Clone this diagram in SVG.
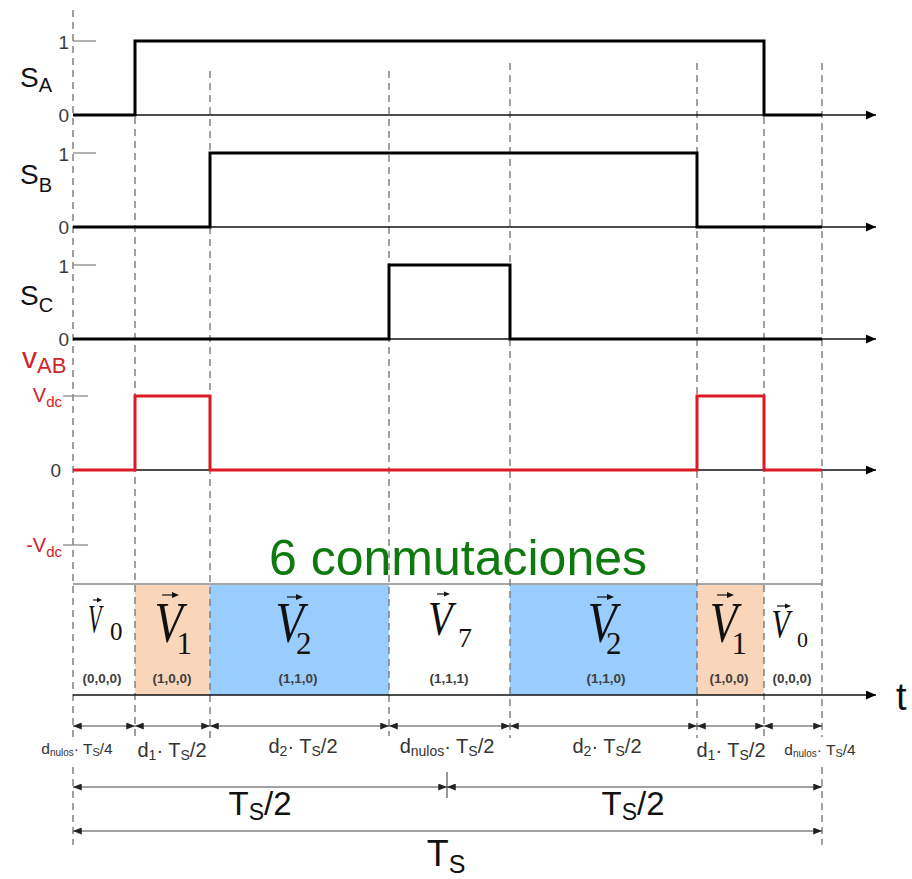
<svg xmlns="http://www.w3.org/2000/svg" width="912" height="879" viewBox="0 0 912 879">
<defs>
<style>
.sans{font-family:"Liberation Sans",Arial,sans-serif}
.serif{font-family:"Liberation Serif","Times New Roman",serif}
.vv{font-family:"Liberation Serif","Times New Roman",serif;font-style:italic;fill:#111}
.sub{font-family:"Liberation Serif","Times New Roman",serif;fill:#111}
.axis{stroke:#111;stroke-width:1.6;fill:none;marker-end:url(#ax)}
.sig{stroke:#000;stroke-width:3;fill:none}
.sigr{stroke:#DB1A22;stroke-width:3;fill:none}
.dash{stroke:#7a7a7a;stroke-width:1.4;stroke-dasharray:7 5;fill:none}
.tick{stroke:#8a8a8a;stroke-width:1.3;fill:none}
.dim{stroke:#444;stroke-width:1.1;fill:none;marker-start:url(#ah);marker-end:url(#ah)}
.num{font-family:"Liberation Sans",Arial,sans-serif;font-size:19px;fill:#3a3a3a;text-anchor:end}
.red{fill:#D0242B}
.tup{font-family:"Liberation Sans",Arial,sans-serif;font-size:13.5px;font-weight:bold;fill:#404040;text-anchor:middle}
.dl{font-family:"Liberation Sans",Arial,sans-serif;font-size:20px;fill:#333;text-anchor:middle}
.dls{font-family:"Liberation Sans",Arial,sans-serif;font-size:15.5px;fill:#333;text-anchor:middle}
.va{stroke:#111;stroke-width:1.2;fill:none}
</style>
<marker id="ax" viewBox="0 0 10 9" refX="10" refY="4.5" markerWidth="10" markerHeight="9" markerUnits="userSpaceOnUse" orient="auto"><path d="M0,0 L10,4.5 L0,9 z" fill="#000"/></marker>
<marker id="ah" viewBox="0 0 10 8" refX="10" refY="4" markerWidth="9" markerHeight="7" markerUnits="userSpaceOnUse" orient="auto-start-reverse"><path d="M0,0 L10,4 L0,8 z" fill="#222"/></marker>
</defs>
<rect width="912" height="879" fill="#fff"/>

<!-- vector band fills -->
<g id="band">
<rect x="135" y="584" width="75" height="111" fill="#F9D5B9"/>
<rect x="210" y="584" width="179" height="111" fill="#99CCFF"/>
<rect x="510" y="584" width="187" height="111" fill="#99CCFF"/>
<rect x="697" y="584" width="67" height="111" fill="#F9D5B9"/>
<line x1="73" y1="584" x2="822" y2="584" stroke="#A6A6A6" stroke-width="2"/>
</g>

<!-- dashed guides -->
<g id="guides">
<path class="dash" d="M73,10 V737 M73,767 V845"/>
<path class="dash" d="M135,117 V738"/>
<path class="dash" d="M210,71 V738"/>
<path class="dash" d="M389,71 V736"/>
<path class="dash" d="M510,63 V738"/>
<path class="dash" d="M697,63 V738"/>
<path class="dash" d="M764,117 V738"/>
<path class="dash" d="M822,63 V737 M822,767 V845"/>
</g>

<!-- SA -->
<g id="SA">
<line class="tick" x1="73" y1="41" x2="96" y2="41"/>
<path class="axis" d="M73,115 H876"/>
<path class="sig" d="M73,115 H135 V41 H764 V115 H822"/>
<text class="num" x="69" y="49">1</text>
<text class="num" x="69" y="122">0</text>
<text class="sans" x="20" y="87" font-size="28" fill="#111">S<tspan font-size="20" dy="5">A</tspan></text>
</g>

<!-- SB -->
<g id="SB">
<line class="tick" x1="73" y1="153" x2="96" y2="153"/>
<path class="axis" d="M73,227 H876"/>
<path class="sig" d="M73,227 H210 V153 H697 V227 H822"/>
<text class="num" x="69" y="161">1</text>
<text class="num" x="69" y="234">0</text>
<text class="sans" x="20" y="184" font-size="28" fill="#111">S<tspan font-size="20" dy="8">B</tspan></text>
</g>

<!-- SC -->
<g id="SC">
<line class="tick" x1="73" y1="265" x2="96" y2="265"/>
<path class="axis" d="M73,339 H876"/>
<path class="sig" d="M73,339 H389 V265 H510 V339 H822"/>
<text class="num" x="69" y="273">1</text>
<text class="num" x="69" y="346">0</text>
<text class="sans" x="20" y="305" font-size="28" fill="#111">S<tspan font-size="20" dy="7">C</tspan></text>
</g>

<!-- vAB -->
<g id="VAB">
<line class="tick" x1="63" y1="396" x2="88" y2="396"/>
<line class="tick" x1="63" y1="545" x2="88" y2="545"/>
<path class="axis" d="M73,470 H876"/>
<path class="sigr" d="M73,470 H135 V396 H210 V470 H697 V396 H764 V470 H822"/>
<text class="sans red" x="22" y="368" font-size="30">v<tspan font-size="22" dy="5">AB</tspan></text>
<text class="sans red" x="62" y="402" font-size="20" text-anchor="end">V<tspan font-size="15" dy="5">dc</tspan></text>
<text class="num" x="61" y="477">0</text>
<text class="sans red" x="62" y="552" font-size="20" text-anchor="end">-V<tspan font-size="15" dy="5">dc</tspan></text>
</g>

<text id="conmutaciones" class="sans" x="269" y="575" font-size="50" fill="#0E7A0E">6 conmutaciones</text>

<!-- time axis -->
<g id="t-axis">
<path class="axis" d="M73,695 H876" stroke-width="1.8"/>
<text class="sans" x="896" y="710" font-size="38" fill="#111">t</text>
</g>

<!-- vectors -->
<g id="V0a">
<text class="vv" font-size="39.5" transform="translate(87.9,632) scale(0.56,1)">V</text>
<text class="sub" x="110" y="640" font-size="25">0</text>
<path class="va" d="M93,600 H98"/><path d="M102,600 L97,597.5 L97,602.5 z" fill="#111"/>
<text class="tup" x="102" y="683">(0,0,0)</text>
</g>
<g id="V1a">
<text class="vv" font-size="58" transform="translate(154.6,642) scale(0.8,1)">V</text>
<text class="sub" x="176.5" y="654" font-size="31">1</text>
<path class="va" d="M162,595 H173"/><path d="M179,595 L172,592 L172,598 z" fill="#111"/>
<text class="tup" x="172" y="683">(1,0,0)</text>
</g>
<g id="V2a">
<text class="vv" font-size="58" transform="translate(275.6,642) scale(0.8,1)">V</text>
<text class="sub" x="296" y="654" font-size="31">2</text>
<path class="va" d="M287,597 H297"/><path d="M303,597 L296,594 L296,600 z" fill="#111"/>
<text class="tup" x="298" y="683">(1,1,0)</text>
</g>
<g id="V7">
<text class="vv" font-size="48" transform="translate(427.9,635) scale(0.84,1)">V</text>
<text class="sub" x="458" y="647" font-size="28">7</text>
<path class="va" d="M437,594 H445"/><path d="M450,594 L444,591.5 L444,596.5 z" fill="#111"/>
<text class="tup" x="449" y="683">(1,1,1)</text>
</g>
<g id="V2b">
<text class="vv" font-size="58" transform="translate(587.6,642) scale(0.82,1)">V</text>
<text class="sub" x="606" y="654" font-size="31">2</text>
<path class="va" d="M597,597 H608"/><path d="M614,597 L607,594 L607,600 z" fill="#111"/>
<text class="tup" x="606" y="683">(1,1,0)</text>
</g>
<g id="V1b">
<text class="vv" font-size="58" transform="translate(709.7,642) scale(0.78,1)">V</text>
<text class="sub" x="731.5" y="654" font-size="31">1</text>
<path class="va" d="M717,595 H728"/><path d="M734,595 L727,592 L727,598 z" fill="#111"/>
<text class="tup" x="729" y="683">(1,0,0)</text>
</g>
<g id="V0b">
<text class="vv" font-size="39.5" transform="translate(771.5,637) scale(0.76,1)">V</text>
<text class="sub" x="797" y="647" font-size="22">0</text>
<path class="va" d="M777,606 H786"/><path d="M791,606 L785,603.5 L785,608.5 z" fill="#111"/>
<text class="tup" x="792" y="683">(0,0,0)</text>
</g>

<!-- dimension connectors -->
<g id="connectors">
<path class="dim" d="M73,726 H135"/>
<path class="dim" d="M135,726 H210"/>
<path class="dim" d="M210,726 H389"/>
<path class="dim" d="M389,726 H510"/>
<path class="dim" d="M510,726 H697"/>
<path class="dim" d="M697,726 H764"/>
<path class="dim" d="M764,726 H822"/>
<path class="dim" d="M73,787 H447"/>
<path class="dim" d="M447,787 H822"/>
<line x1="447" y1="772" x2="447" y2="798" stroke="#444" stroke-width="1.1"/>
<path class="dim" d="M73,831 H822"/>
</g>

<!-- dimension labels -->
<g id="dim-labels">
<text class="dls" x="77" y="754">d<tspan font-size="10" dy="2">nulos</tspan><tspan dy="-2">· T</tspan><tspan font-size="11" dy="2">S</tspan><tspan dy="-2">/4</tspan></text>
<text class="dl" x="172" y="757">d<tspan font-size="14" dy="3">1</tspan><tspan dy="-3">· T</tspan><tspan font-size="14" dy="3">S</tspan><tspan dy="-3">/2</tspan></text>
<text class="dl" x="303" y="753">d<tspan font-size="14" dy="3">2</tspan><tspan dy="-3">· T</tspan><tspan font-size="14" dy="3">S</tspan><tspan dy="-3">/2</tspan></text>
<text class="dl" x="447" y="753">d<tspan font-size="14" dy="3">nulos</tspan><tspan dy="-3">· T</tspan><tspan font-size="14" dy="3">S</tspan><tspan dy="-3">/2</tspan></text>
<text class="dl" x="607" y="753">d<tspan font-size="14" dy="3">2</tspan><tspan dy="-3">· T</tspan><tspan font-size="14" dy="3">S</tspan><tspan dy="-3">/2</tspan></text>
<text class="dl" x="731" y="757">d<tspan font-size="14" dy="3">1</tspan><tspan dy="-3">· T</tspan><tspan font-size="14" dy="3">S</tspan><tspan dy="-3">/2</tspan></text>
<text class="dls" x="820" y="755">d<tspan font-size="10" dy="2">nulos</tspan><tspan dy="-2">· T</tspan><tspan font-size="11" dy="2">S</tspan><tspan dy="-2">/4</tspan></text>
<text class="sans" x="260" y="815" font-size="33" fill="#111" text-anchor="middle">T<tspan font-size="23" dy="5">S</tspan><tspan dy="-5">/2</tspan></text>
<text class="sans" x="633" y="815" font-size="33" fill="#111" text-anchor="middle">T<tspan font-size="23" dy="5">S</tspan><tspan dy="-5">/2</tspan></text>
<text class="sans" x="446" y="866" font-size="36" fill="#111" text-anchor="middle">T<tspan font-size="25" dy="7">S</tspan></text>
</g>
</svg>
